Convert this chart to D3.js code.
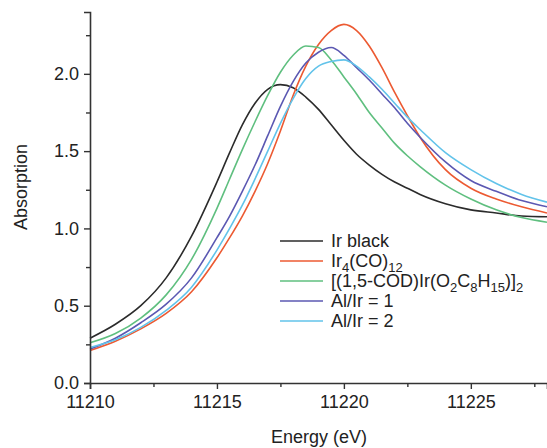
<!DOCTYPE html>
<html lang="en">
<head>
    <meta charset="UTF-8" />
    <title>Ir L3 edge XANES</title>
    <script src="https://d3js.org/d3.v7.min.js"></script>
    <style>
        body { margin: 0; background: #fff; }
        text { font-family: "Liberation Sans", Arial, sans-serif; fill: #222; }
    </style>
</head>
<body>
    <script>
        // Data
        var energy = [11210, 11211, 11212, 11213, 11214, 11215, 11215.5, 11216, 11216.5, 11217, 11217.5,
            11218, 11218.5, 11219, 11219.5, 11220, 11220.5, 11221, 11221.5, 11222, 11222.5, 11223,
            11224, 11225, 11226, 11227, 11228];
        var irBlack = [0.29, 0.38, 0.50, 0.68, 0.95, 1.30, 1.49, 1.67, 1.81, 1.90, 1.93,
            1.91, 1.85, 1.77, 1.67, 1.57, 1.48, 1.41, 1.35, 1.30, 1.26, 1.22,
            1.16, 1.12, 1.10, 1.08, 1.075];
        var ir4co12 = [0.21, 0.27, 0.35, 0.45, 0.59, 0.81, 0.94, 1.08, 1.24, 1.42, 1.63,
            1.86, 2.05, 2.19, 2.28, 2.32, 2.28, 2.18, 2.04, 1.88, 1.73, 1.59,
            1.38, 1.26, 1.19, 1.14, 1.10];
        var codIr = [0.26, 0.32, 0.42, 0.57, 0.80, 1.13, 1.32, 1.51, 1.69, 1.86, 2.01,
            2.12, 2.18, 2.17, 2.09, 1.98, 1.87, 1.75, 1.65, 1.55, 1.47, 1.40,
            1.28, 1.19, 1.12, 1.07, 1.04];
        var alIr1 = [0.22, 0.29, 0.39, 0.51, 0.68, 0.94, 1.08, 1.24, 1.41, 1.60, 1.79,
            1.95, 2.07, 2.14, 2.17, 2.12, 2.04, 1.96, 1.87, 1.78, 1.68, 1.59,
            1.43, 1.31, 1.24, 1.18, 1.14];
        var alIr2 = [0.23, 0.28, 0.36, 0.47, 0.62, 0.86, 1.00, 1.15, 1.32, 1.50, 1.68,
            1.84, 1.97, 2.05, 2.08, 2.09, 2.05, 1.98, 1.90, 1.81, 1.72, 1.64,
            1.49, 1.38, 1.29, 1.22, 1.17];

        // legend labels: [text, isSubscript]
        var labels = [
            [["Ir black", 0]],
            [["Ir", 0], ["4", 1], ["(CO)", 0], ["12", 1]],
            [["[(1,5-COD)Ir(O", 0], ["2", 1], ["C", 0], ["8", 1], ["H", 0], ["15", 1], [")]", 0], ["2", 1]],
            [["Al/Ir = 1", 0]],
            [["Al/Ir = 2", 0]]
        ];
        var colors = ["#2b2b2b", "#ec5a32", "#5fbf7f", "#5b58b2", "#62c3ea"];
        var series = [irBlack, ir4co12, codIr, alIr1, alIr2];

        var xTicks = [11210, 11215, 11220, 11225];
        var yTicks = [0.0, 0.5, 1.0, 1.5, 2.0];

        var w = 547;
        var h = 448;

        var svg = d3.select("body")
            .append("svg")
            .attr("width", w)
            .attr("height", h);

        var xScale = d3.scaleLinear()
            .domain([11210, 11228])
            .range([90, 547]);

        var yScale = d3.scaleLinear()
            .domain([0, 2.4])
            .range([383, 12]);

        // Curves (drawn first so the axes sit on top)
        var line = d3.line()
            .x(function(d) { return xScale(d[0]); })
            .y(function(d) { return yScale(d[1]); })
            .curve(d3.curveMonotoneX);

        series.forEach(function(s, i) {
            svg.append("path")
                .datum(energy.map(function(e, j) { return [e, s[j]]; }))
                .attr("fill", "none")
                .attr("stroke", colors[i])
                .attr("stroke-width", 1.6)
                .attr("d", line);
        });

        // Axes
        svg.append("g")
            .attr("transform", "translate(0,383)")
            .call(d3.axisBottom(xScale).tickValues(xTicks).tickFormat(d3.format("d"))
                .tickSize(6).tickPadding(6));
        svg.append("g")
            .attr("transform", "translate(0,383)")
            .call(d3.axisBottom(xScale).tickValues([11212.5, 11217.5, 11222.5, 11227.5])
                .tickSize(4).tickFormat(""))
            .select(".domain").remove();

        svg.append("g")
            .attr("transform", "translate(90,0)")
            .call(d3.axisLeft(yScale).tickValues(yTicks).tickFormat(d3.format(".1f"))
                .tickSize(6).tickPadding(5));
        svg.append("g")
            .attr("transform", "translate(90,0)")
            .call(d3.axisLeft(yScale).tickValues([0.25, 0.75, 1.25, 1.75, 2.25])
                .tickSize(4).tickFormat(""))
            .select(".domain").remove();

        svg.selectAll(".domain")
            .attr("stroke", "#333")
            .attr("stroke-width", 1.6);
        svg.selectAll(".tick line")
            .attr("stroke", "#333")
            .attr("stroke-width", 1.4);
        svg.selectAll(".tick text")
            .attr("font-size", 18)
            .attr("font-family", "Liberation Sans, Arial, sans-serif")
            .attr("fill", "#222");

        // Axis titles
        svg.append("text")
            .attr("x", 319)
            .attr("y", 443)
            .attr("text-anchor", "middle")
            .attr("font-size", 18)
            .text("Energy (eV)");

        svg.append("text")
            .attr("transform", "translate(27,187) rotate(-90)")
            .attr("text-anchor", "middle")
            .attr("font-size", 18)
            .text("Absorption");

        // Legend
        var legend = svg.append("g");
        labels.forEach(function(parts, i) {
            var y = 241 + i * 20;
            legend.append("line")
                .attr("x1", 280)
                .attr("x2", 323)
                .attr("y1", y)
                .attr("y2", y)
                .attr("stroke", colors[i])
                .attr("stroke-width", 1.6);
            var t = legend.append("text")
                .attr("x", 331)
                .attr("y", y + 6)
                .attr("font-size", 18);
            var sub = 0;
            parts.forEach(function(p) {
                var ts = t.append("tspan").text(p[0]);
                if (p[1] && !sub) { ts.attr("dy", 5).attr("font-size", 13); sub = 1; }
                else if (p[1]) { ts.attr("font-size", 13); }
                else if (sub) { ts.attr("dy", -5); sub = 0; }
            });
        });
    </script>
</body>
</html>
